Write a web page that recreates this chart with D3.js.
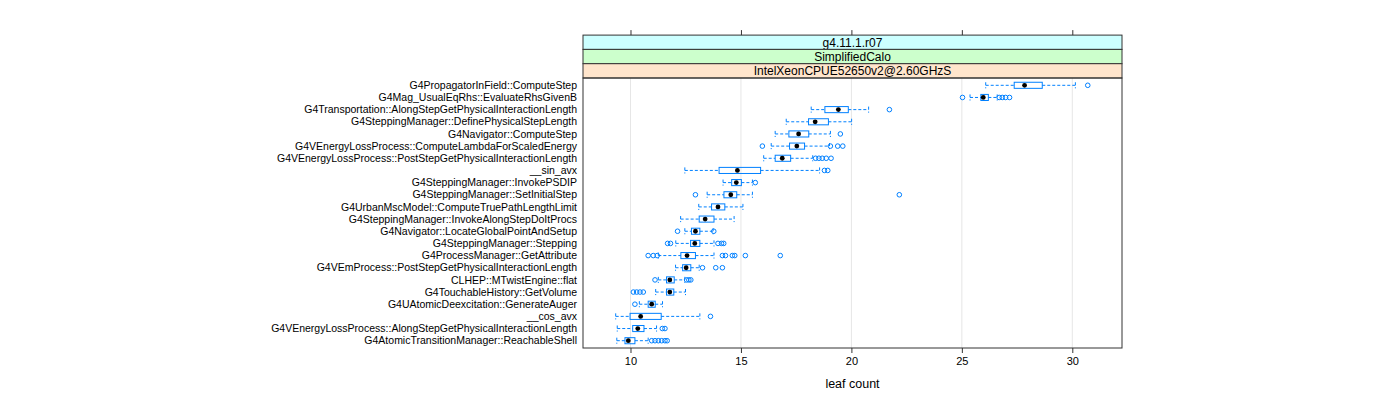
<!DOCTYPE html>
<html>
<head>
<meta charset="utf-8">
<script src="https://cdn.jsdelivr.net/npm/d3@7"></script>
<style>
  body { margin: 0; background: #fff; }
  text { font-family: "Liberation Sans", Arial, sans-serif; }
</style>
</head>
<body>
<script>
// five-number summaries, top row first
const names = [
  "G4PropagatorInField::ComputeStep",
  "G4Mag_UsualEqRhs::EvaluateRhsGivenB",
  "G4Transportation::AlongStepGetPhysicalInteractionLength",
  "G4SteppingManager::DefinePhysicalStepLength",
  "G4Navigator::ComputeStep",
  "G4VEnergyLossProcess::ComputeLambdaForScaledEnergy",
  "G4VEnergyLossProcess::PostStepGetPhysicalInteractionLength",
  "__sin_avx",
  "G4SteppingManager::InvokePSDIP",
  "G4SteppingManager::SetInitialStep",
  "G4UrbanMscModel::ComputeTruePathLengthLimit",
  "G4SteppingManager::InvokeAlongStepDoItProcs",
  "G4Navigator::LocateGlobalPointAndSetup",
  "G4SteppingManager::Stepping",
  "G4ProcessManager::GetAttribute",
  "G4VEmProcess::PostStepGetPhysicalInteractionLength",
  "CLHEP::MTwistEngine::flat",
  "G4TouchableHistory::GetVolume",
  "G4UAtomicDeexcitation::GenerateAuger",
  "__cos_avx",
  "G4VEnergyLossProcess::AlongStepGetPhysicalInteractionLength",
  "G4AtomicTransitionManager::ReachableShell"
];
const whiskLo = [26.08, 25.37, 18.18, 17.05, 16.55, 16.37, 16.03, 12.46, 14.19, 13.47, 13.09,
                 12.27, 12.46, 12.05, 11.26, 12.04, 11.26, 11.14, 10.40, 9.33, 9.40, 9.38];
const q1      = [27.37, 25.86, 18.80, 18.06, 17.17, 17.20, 16.55, 14.01, 14.58, 14.23, 13.67,
                 13.11, 12.76, 12.72, 12.28, 12.36, 11.63, 11.63, 10.80, 9.98, 10.10, 9.75];
const med     = [27.84, 25.97, 19.41, 18.36, 17.61, 17.53, 16.87, 14.84, 14.79, 14.54, 13.96,
                 13.38, 12.94, 12.91, 12.56, 12.52, 11.78, 11.78, 10.96, 10.46, 10.33, 9.90];
const q3      = [28.64, 26.20, 19.86, 18.96, 18.07, 17.88, 17.25, 15.89, 15.02, 14.81, 14.27,
                 13.78, 13.14, 13.14, 12.94, 12.73, 11.98, 11.96, 11.12, 11.39, 10.61, 10.20];
const whiskHi = [30.14, 26.60, 20.78, 20.01, 19.05, 19.01, 18.25, 18.56, 15.52, 15.52, 15.09,
                 14.69, 13.74, 13.78, 13.78, 13.11, 12.46, 12.49, 11.45, 13.14, 11.18, 10.80];
const outliers = [
  [30.70],
  [25.03, 26.69, 26.83, 26.98, 27.16],
  [21.72],
  [],
  [19.50],
  [15.97, 19.05, 19.38, 19.61],
  [18.38, 18.53, 18.68, 18.86, 19.08],
  [18.78, 18.93],
  [15.65],
  [12.94, 22.17],
  [],
  [],
  [12.13, 13.77],
  [11.68, 11.81, 13.96, 14.12, 14.22],
  [10.80, 11.03, 11.21, 14.16, 14.30, 14.61, 14.72, 15.20, 16.78],
  [13.26, 13.86, 14.16],
  [11.11, 12.54, 12.64, 12.73],
  [10.13, 10.28, 10.43, 10.58],
  [10.20],
  [13.62],
  [11.44, 11.56],
  [10.96, 11.11, 11.26, 11.41, 11.56, 11.66]
];
const xTicks = [10, 15, 20, 25, 30];
const strips = ["g4.11.1.r07", "SimplifiedCalo", "IntelXeonCPUE52650v2@2.60GHzS"];
const stripFill = ["#ccffff", "#ccffcc", "#ffe5cc"];
const xLabel = "leaf count";

function main() {
  const width = 1400, height = 400;
  const left = 583, right = 1122, top = 78, bottom = 348;
  const stripH = 14.3;
  const blue = "#0080ff";

  const svg = d3.select("body").append("svg")
    .attr("width", width)
    .attr("height", height);

  const x = d3.scaleLinear().domain([7.85, 32.25]).range([left, right]);
  const y = d3.scalePoint().domain(names).range([top, bottom]).padding(0.6);
  const bh = y.step() * 0.5;

  // grid
  svg.append("g")
    .selectAll("line")
    .data(xTicks)
    .join("line")
      .attr("x1", d => x(d)).attr("x2", d => x(d))
      .attr("y1", top).attr("y2", bottom)
      .attr("stroke", "#e6e6e6");

  const rows = svg.append("g")
    .selectAll("g")
    .data(names.map((n, i) => ({n, i})))
    .join("g")
      .attr("transform", d => `translate(0,${y(d.n)})`);

  // whiskers + caps
  rows.append("path")
    .attr("fill", "none")
    .attr("stroke", blue)
    .attr("stroke-dasharray", "3,2")
    .attr("d", d => {
      const i = d.i;
      return `M${x(whiskLo[i])},0H${x(q1[i])}M${x(q3[i])},0H${x(whiskHi[i])}` +
        `M${x(whiskLo[i])},${-bh / 2}V${bh / 2}M${x(whiskHi[i])},${-bh / 2}V${bh / 2}`;
    });

  rows.append("rect")
    .attr("x", d => x(q1[d.i]))
    .attr("y", -bh / 2)
    .attr("width", d => x(q3[d.i]) - x(q1[d.i]))
    .attr("height", bh)
    .attr("fill", "none")
    .attr("stroke", blue);

  rows.selectAll("circle.out")
    .data(d => outliers[d.i])
    .join("circle")
      .attr("class", "out")
      .attr("cx", v => x(v))
      .attr("cy", 0)
      .attr("r", 2.3)
      .attr("fill", "none")
      .attr("stroke", blue);

  rows.append("circle")
    .attr("cx", d => x(med[d.i]))
    .attr("cy", 0)
    .attr("r", 2.4)
    .attr("fill", "#000");

  // y labels
  rows.append("text")
    .attr("x", left - 6)
    .attr("dy", "0.35em")
    .attr("text-anchor", "end")
    .attr("font-size", "10.5px")
    .text(d => d.n);

  // strips
  const st = svg.append("g")
    .selectAll("g")
    .data(strips)
    .join("g")
      .attr("transform", (d, i) => `translate(0,${top - stripH * (strips.length - i)})`);
  st.append("rect")
    .attr("x", left).attr("width", right - left)
    .attr("height", stripH)
    .attr("fill", (d, i) => stripFill[i])
    .attr("stroke", "#333");
  st.append("text")
    .attr("x", (left + right) / 2)
    .attr("y", stripH / 2)
    .attr("dy", "0.36em")
    .attr("text-anchor", "middle")
    .attr("font-size", "12px")
    .text(d => d);

  // panel border
  svg.append("rect")
    .attr("x", left).attr("y", top)
    .attr("width", right - left).attr("height", bottom - top)
    .attr("fill", "none")
    .attr("stroke", "#333");

  // bottom axis
  svg.append("g")
    .attr("transform", `translate(0,${bottom})`)
    .call(d3.axisBottom(x).tickValues(xTicks).tickSize(5).tickPadding(4))
    .call(g => g.select(".domain").remove())
    .call(g => g.selectAll("line").attr("stroke", "#333"))
    .call(g => g.selectAll("text").attr("font-size", "11px")
      .attr("font-family", "Liberation Sans, Arial, sans-serif"));

  // top ticks above strips
  svg.append("g")
    .attr("transform", `translate(0,${top - stripH * strips.length})`)
    .call(d3.axisTop(x).tickValues(xTicks).tickSize(5).tickFormat(""))
    .call(g => g.select(".domain").remove())
    .call(g => g.selectAll("line").attr("stroke", "#333"));

  svg.append("text")
    .attr("x", (left + right) / 2)
    .attr("y", 388)
    .attr("text-anchor", "middle")
    .attr("font-size", "12.5px")
    .text(xLabel);
}

window.addEventListener("load", main);
</script>
</body>
</html>
